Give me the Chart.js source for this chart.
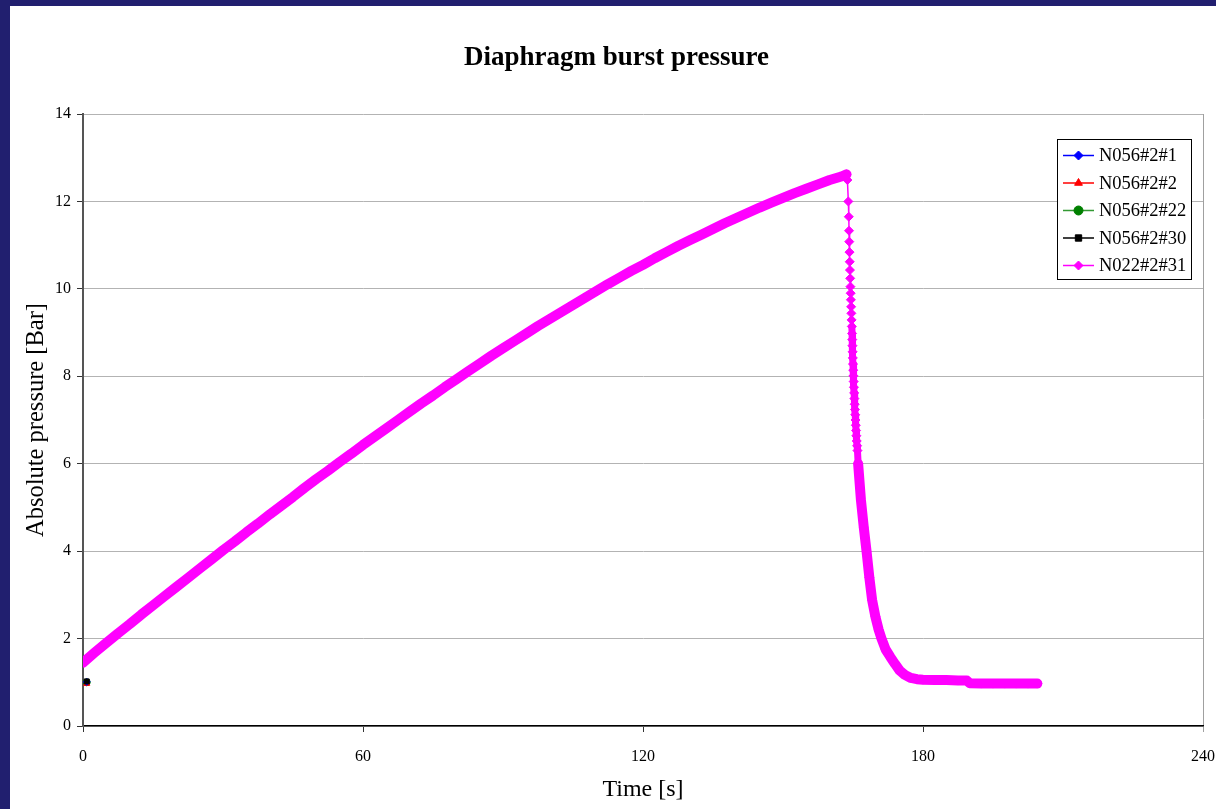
<!DOCTYPE html>
<html>
<head>
<meta charset="utf-8">
<script src="https://cdn.jsdelivr.net/npm/chart.js@4.4.1/dist/chart.umd.min.js"></script>
<style>
  html, body { margin: 0; padding: 0; background: #211f6f; width: 1216px; height: 809px; overflow: hidden; }
  #wrap { position: absolute; left: 10px; top: 6px; width: 1206px; height: 803px; background: #ffffff; }
  canvas { display: block; }
</style>
</head>
<body>
<div id="wrap"><canvas id="c" width="1206" height="803"></canvas></div>
<script>
// ---- Data ----
const chartTitle = "Diaphragm burst pressure";
const xAxisTitle = "Time [s]";
const yAxisTitle = "Absolute pressure [Bar]";
const xTicks = [0, 60, 120, 180, 240];
const yTicks = [0, 2, 4, 6, 8, 10, 12, 14];

const seriesNames = ["N056#2#1", "N056#2#2", "N056#2#22", "N056#2#30", "N022#2#31"];

const n056_1_time = [0.8];
const n056_1_pressure = [1.01];
const n056_2_time = [0.8];
const n056_2_pressure = [0.97];
const n056_22_time = [0.8];
const n056_22_pressure = [1.0];
const n056_30_time = [0.8];
const n056_30_pressure = [1.02];

const n022_31_time = [
  0, 2.5, 5, 7.5, 10, 12.5, 15, 17.5, 20, 22.5, 25, 27.5, 30, 32.5, 35, 37.5, 40, 42.5, 45, 47.5,
  50, 52.5, 55, 57.5, 60, 62.5, 65, 67.5, 70, 72.5, 75, 77.5, 80, 82.5, 85, 87.5, 90, 92.5, 95, 97.5,
  100, 102.5, 105, 107.5, 110, 112.5, 115, 117.5, 120, 122.5, 125, 127.5, 130, 132.5, 135, 137.5,
  140, 142.5, 145, 147.5, 150, 152.5, 155, 157.5, 160, 162.5, 163.6,
  163.8, 164.0, 164.1, 164.15, 164.2, 164.25, 164.3, 164.35, 164.4, 164.45, 164.5, 164.55, 164.6,
  164.65, 164.7, 164.75, 164.8, 164.84, 164.88, 164.92, 164.96, 165.0, 165.05, 165.1, 165.15, 165.2,
  165.25, 165.3, 165.36, 165.42, 165.48, 165.54, 165.6, 165.66, 165.72, 165.8, 165.88, 165.96, 166.1,
  166.7, 167.3, 167.9, 168.5, 169.1, 169.8, 170.5, 171.1, 172.0, 173.0, 174.0, 175.0, 176.1, 177.4,
  178.7, 180.0, 182.5, 185.0, 187.5, 189.4, 190.0, 192.5, 195.0, 197.5, 200.0, 202.5, 204.5
];
const n022_31_pressure = [
  1.45, 1.68, 1.90, 2.12, 2.33, 2.55, 2.76, 2.97, 3.18, 3.39, 3.60, 3.81, 4.02, 4.22, 4.43, 4.63, 4.84, 5.04, 5.24, 5.45,
  5.65, 5.84, 6.04, 6.23, 6.43, 6.62, 6.81, 7.00, 7.19, 7.38, 7.56, 7.75, 7.93, 8.11, 8.29, 8.47, 8.64, 8.81, 8.98, 9.15,
  9.31, 9.47, 9.63, 9.79, 9.95, 10.11, 10.26, 10.41, 10.55, 10.70, 10.84, 10.98, 11.11, 11.24, 11.37, 11.50,
  11.62, 11.74, 11.86, 11.97, 12.08, 12.19, 12.29, 12.39, 12.49, 12.57, 12.62,
  12.49, 12.00, 11.65, 11.33, 11.08, 10.84, 10.62, 10.43, 10.24, 10.05, 9.90, 9.75, 9.59,
  9.44, 9.29, 9.14, 8.98, 8.84, 8.70, 8.56, 8.42, 8.28, 8.14, 8.01, 7.88, 7.75,
  7.62, 7.49, 7.36, 7.24, 7.12, 7.00, 6.88, 6.76, 6.64, 6.52, 6.41, 6.30, 6.00,
  5.17, 4.55, 4.00, 3.40, 2.88, 2.50, 2.20, 2.00, 1.75, 1.58, 1.42, 1.27, 1.17, 1.10,
  1.07, 1.06, 1.05, 1.05, 1.04, 1.04, 0.98, 0.97, 0.97, 0.97, 0.97, 0.97, 0.97
];

const seriesColors = ["#0000ff", "#ff0000", "#008000", "#000000", "#ff00ff"];
const seriesLineColors = ["#0000ff", "#ff0000", "#339933", "#000000", "#ff00ff"];
const seriesMarkers = ["rectRot", "triangle", "circle", "rect", "rectRot"];

const serif = "'Liberation Serif', 'Times New Roman', 'DejaVu Serif', serif";

function pts(xs, ys) { return xs.map((x, i) => ({ x: x, y: ys[i] })); }

const datasets = [
  { label: seriesNames[0], data: pts(n056_1_time, n056_1_pressure), order: 3, pointRadius: 3.5 },
  { label: seriesNames[1], data: pts(n056_2_time, n056_2_pressure), order: 4, pointRadius: 3.5 },
  { label: seriesNames[2], data: pts(n056_22_time, n056_22_pressure), order: 5, pointRadius: 3.5 },
  { label: seriesNames[3], data: pts(n056_30_time, n056_30_pressure), order: 2, pointRadius: 3.5 },
  {
    label: seriesNames[4], data: pts(n022_31_time, n022_31_pressure), order: 1, pointRadius: 4.5,
    borderCapStyle: 'round', borderJoinStyle: 'round',
    segment: {
      borderWidth: ctx => {
        const a = ctx.p0.parsed, b = ctx.p1.parsed;
        const lo = Math.min(a.y, b.y);
        if (a.x >= 163.5 && lo >= 9.0) return 1.5;
        if (a.x >= 163.5 && lo >= 5.9) return 7;
        return 10;
      }
    }
  }
].map((d, i) => Object.assign({
  showLine: true,
  borderColor: seriesLineColors[i],
  backgroundColor: seriesColors[i],
  pointBackgroundColor: seriesColors[i],
  pointBorderColor: seriesColors[i],
  pointBorderWidth: 1,
  pointStyle: seriesMarkers[i],
  borderWidth: 1.5,
  pointHoverRadius: 4
}, d));

const boxLegend = {
  id: 'boxLegend',
  afterDatasetsDraw(chart) {
    const ctx = chart.ctx;
    const left = 1047.5, top = 133.5, w = 134, h = 140;
    ctx.save();
    ctx.fillStyle = '#ffffff';
    ctx.fillRect(left, top, w, h);
    ctx.strokeStyle = '#000000';
    ctx.lineWidth = 1;
    ctx.strokeRect(left, top, w, h);
    ctx.font = "18.5px " + serif;
    ctx.textBaseline = 'middle';
    ctx.textAlign = 'left';
    chart.data.datasets.forEach((ds, i) => {
      const y = 149.5 + i * 27.5;
      ctx.strokeStyle = ds.borderColor;
      ctx.lineWidth = 1.5;
      ctx.beginPath();
      ctx.moveTo(1053, y);
      ctx.lineTo(1084, y);
      ctx.stroke();
      ctx.fillStyle = ds.pointBackgroundColor;
      ctx.strokeStyle = ds.pointBorderColor;
      ctx.lineWidth = 1;
      Chart.helpers.drawPoint(ctx, {
        pointStyle: ds.pointStyle, radius: 4.5, borderWidth: 1, rotation: 0
      }, 1068.5, y);
      ctx.fillStyle = '#000000';
      ctx.fillText(ds.label, 1089, y + 1);
    });
    ctx.restore();
  }
};

new Chart(document.getElementById('c'), {
  type: 'scatter',
  data: { datasets: datasets },
  plugins: [boxLegend],
  options: {
    responsive: false,
    devicePixelRatio: 1,
    animation: false,
    layout: { padding: { left: 20, right: 13, top: 0, bottom: 0 } },
    plugins: {
      legend: { display: false },
      tooltip: { enabled: false },
      title: {
        display: true,
        text: chartTitle,
        color: '#000000',
        font: { family: serif, size: 27, weight: 'bold', lineHeight: 1.2 },
        padding: { top: 36, bottom: 39.6 }
      }
    },
    scales: {
      x: {
        type: 'linear',
        min: 0, max: 240,
        afterBuildTicks: s => { s.ticks = xTicks.map(v => ({ value: v })); },
        afterFit: s => { s.height = 83; s.paddingLeft = 0; s.paddingRight = 0; },
        ticks: { color: '#000000', font: { family: serif, size: 16 }, padding: 15, maxRotation: 0 },
        grid: {
          color: c => (c.tick && c.tick.value === 240) ? '#a0a0a0' : 'rgba(0,0,0,0)',
          tickColor: c => (c.tick && c.tick.value === 240) ? '#a0a0a0' : '#333333',
          tickLength: 6,
          drawOnChartArea: true
        },
        border: { display: true, color: '#000000', width: 1.5 },
        title: {
          display: true, text: xAxisTitle, color: '#000000',
          font: { family: serif, size: 24, lineHeight: 1.2 },
          padding: { top: 0, bottom: 4.6 }
        }
      },
      y: {
        type: 'linear',
        min: 0, max: 14,
        afterBuildTicks: s => { s.ticks = yTicks.map(v => ({ value: v })); },
        afterFit: s => { s.width = 53; s.paddingTop = 0; s.paddingBottom = 0; },
        ticks: { color: '#000000', font: { family: serif, size: 16 }, padding: 6 },
        grid: {
          color: '#b3b3b3',
          lineWidth: 1,
          tickColor: '#333333',
          tickLength: 6
        },
        border: { display: true, color: '#555555', width: 2 },
        title: {
          display: true, text: yAxisTitle, color: '#000000',
          font: { family: serif, size: 24.5, lineHeight: 1.2 },
          padding: { top: -7.7, bottom: 0 }
        }
      }
    }
  }
});
</script>
</body>
</html>
